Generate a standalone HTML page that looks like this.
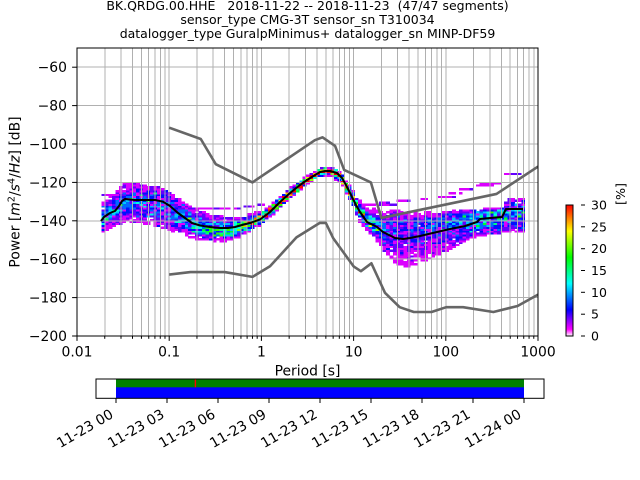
<!DOCTYPE html>
<html><head><meta charset="utf-8">
<style>
html,body{margin:0;padding:0;background:#fff;}
svg{display:block;font-family:"DejaVu Sans","Liberation Sans",sans-serif;}
</style></head><body>
<svg id="s" width="640" height="480" viewBox="0 0 640 480" xmlns="http://www.w3.org/2000/svg">
<defs>
<clipPath id="ax"><rect x="77" y="48" width="461" height="288"/></clipPath>
<linearGradient id="cb" x1="0" y1="1" x2="0" y2="0">
<stop offset="0" stop-color="#ffffff"/>
<stop offset="0.05" stop-color="#ff00ff"/>
<stop offset="0.2" stop-color="#0000ff"/>
<stop offset="0.4" stop-color="#00ffff"/>
<stop offset="0.6" stop-color="#00ff00"/>
<stop offset="0.8" stop-color="#ffff00"/>
<stop offset="1" stop-color="#ff0000"/>
</linearGradient>
</defs>
<rect width="640" height="480" fill="#fff"/>

<!-- titles -->
<g font-size="12.5" text-anchor="middle" fill="#000">
<text x="307.5" y="9.8">BK.QRDG.00.HHE&#160;&#160;&#160;2018-11-22 -- 2018-11-23&#160;&#160;(47/47 segments)</text>
<text x="307.5" y="24">sensor_type CMG-3T sensor_sn T310034</text>
<text x="307.5" y="38.2">datalogger_type GuralpMinimus+ datalogger_sn MINP-DF59</text>
</g>

<g id="hist" clip-path="url(#ax)" shape-rendering="crispEdges"></g>
<g id="grid" stroke="#b0b0b0" stroke-width="1" shape-rendering="crispEdges"></g>

<g clip-path="url(#ax)" fill="none" stroke="#666666" stroke-width="2.6" stroke-linejoin="round">
<polyline points="169.2,127.68 200.77,139.01 215.77,164.16 252.47,182.4 314.86,140.16 322.51,137.28 335.09,145.92 344.16,169.92 370.89,182.4 381.35,217.92 496.51,193.92 538,166.6"/>
<polyline points="169.2,274.56 190.44,272.06 224.71,272.06 252.47,276.86 270.01,266.3 296.45,237.41 319.81,222.91 325.85,222.91 333.15,238.08 353.6,266.4 360.9,271.2 371.4,263.29 384.98,292.8 399.67,307.2 413.83,312 431.52,312 446.2,307.2 463.09,307.2 493.37,312.02 517.55,306.01 538,294.68"/>
</g>
<polyline clip-path="url(#ax)" fill="none" stroke="#000" stroke-width="2" stroke-linejoin="round" points="101,221 104,217 110,213 115,211 119,206 122,201 125,199 135,200 145,200 155,200 163,201.7 170,206 178,213 185,218 192,223 200,225.5 210,227 220,228 228,228 235,227 242,225 250,223 260,219.5 270,212 280,202 290,193 300,185 307,180 315,175 320,172 325,171 330,171 337,173 342,178 346,185 350,193 356,205 360,212 367,222 377,227 383,232 390,235.5 395,238 403,239 410,238 420,236 437,232 450,229 465,226 477,222 480,219 490,218 502,217 506,209 523,209"/>

<rect x="77" y="48" width="461" height="288" fill="none" stroke="#000" stroke-width="1"/>
<g id="ticks" stroke="#000" stroke-width="1"></g>

<!-- y tick labels -->
<g font-size="13.9" text-anchor="end" fill="#000">
<text x="67" y="72.2">−60</text>
<text x="67" y="110.6">−80</text>
<text x="67" y="149">−100</text>
<text x="67" y="187.4">−120</text>
<text x="67" y="225.8">−140</text>
<text x="67" y="264.2">−160</text>
<text x="67" y="302.6">−180</text>
<text x="67" y="341">−200</text>
</g>
<!-- x tick labels -->
<g font-size="13.9" text-anchor="middle" fill="#000">
<text x="77" y="356.5">0.01</text>
<text x="169.2" y="356.5">0.1</text>
<text x="261.4" y="356.5">1</text>
<text x="353.6" y="356.5">10</text>
<text x="445.8" y="356.5">100</text>
<text x="538" y="356.5">1000</text>
<text x="307.5" y="375.7">Period [s]</text>
</g>
<text transform="translate(19.5,192) rotate(-90)" text-anchor="middle" font-size="13.9" fill="#000">Power [<tspan font-style="italic">m</tspan><tspan dy="-5" font-size="9.7">2</tspan><tspan dy="5">/</tspan><tspan font-style="italic">s</tspan><tspan dy="-5" font-size="9.7">4</tspan><tspan dy="5">/</tspan><tspan font-style="italic">Hz</tspan>] [dB]</text>

<!-- colorbar -->
<rect x="566" y="205" width="7" height="131" fill="url(#cb)" stroke="#000" stroke-width="1"/>
<g stroke="#000" stroke-width="1">
<line x1="581" x2="585" y1="205" y2="205"/>
<line x1="581" x2="585" y1="226.8" y2="226.8"/>
<line x1="581" x2="585" y1="248.7" y2="248.7"/>
<line x1="581" x2="585" y1="270.5" y2="270.5"/>
<line x1="581" x2="585" y1="292.3" y2="292.3"/>
<line x1="581" x2="585" y1="314.2" y2="314.2"/>
<line x1="581" x2="585" y1="336" y2="336"/>
</g>
<g font-size="12.5" fill="#000">
<text x="591" y="209.5">30</text>
<text x="591" y="231.3">25</text>
<text x="591" y="253.2">20</text>
<text x="591" y="275">15</text>
<text x="591" y="296.8">10</text>
<text x="591" y="318.7">5</text>
<text x="591" y="340.5">0</text>
</g>
<text transform="translate(625,194) rotate(-90)" text-anchor="middle" font-size="12.7" fill="#000">[%]</text>

<!-- timeline -->
<rect x="116" y="379.5" width="408" height="8" fill="#008000"/>
<rect x="116" y="387.3" width="408" height="10.7" fill="#0000ff"/>
<rect x="194.7" y="379.5" width="1.4" height="7.8" fill="#ff0000"/>
<rect x="96" y="379" width="448" height="19.3" fill="none" stroke="#000" stroke-width="1"/>
<g stroke="#000" stroke-width="1">
<line x1="116" x2="116" y1="398" y2="403"/>
<line x1="167" x2="167" y1="398" y2="403"/>
<line x1="218" x2="218" y1="398" y2="403"/>
<line x1="269" x2="269" y1="398" y2="403"/>
<line x1="320" x2="320" y1="398" y2="403"/>
<line x1="371" x2="371" y1="398" y2="403"/>
<line x1="422" x2="422" y1="398" y2="403"/>
<line x1="473" x2="473" y1="398" y2="403"/>
<line x1="524" x2="524" y1="398" y2="403"/>
</g>
<g font-size="13.9" text-anchor="end" fill="#000">
<text transform="translate(114.3,417) rotate(-30)">11-23 00</text>
<text transform="translate(165.3,417) rotate(-30)">11-23 03</text>
<text transform="translate(216.3,417) rotate(-30)">11-23 06</text>
<text transform="translate(267.3,417) rotate(-30)">11-23 09</text>
<text transform="translate(318.3,417) rotate(-30)">11-23 12</text>
<text transform="translate(369.3,417) rotate(-30)">11-23 15</text>
<text transform="translate(420.3,417) rotate(-30)">11-23 18</text>
<text transform="translate(471.3,417) rotate(-30)">11-23 21</text>
<text transform="translate(522.3,417) rotate(-30)">11-24 00</text>
</g>
</svg>
<script>
(function(){
const NS="http://www.w3.org/2000/svg";
function el(tag,attrs,parent){const e=document.createElementNS(NS,tag);for(const k in attrs)e.setAttribute(k,attrs[k]);parent.appendChild(e);return e;}
const Y=db=>336-(db+200)*1.92;
const grid=document.getElementById('grid'),ticks=document.getElementById('ticks'),hist=document.getElementById('hist');
for(let k=0;k<5;k++)for(let m=1;m<10;m++){const x=77+92.2*(k+Math.log10(m));
  el('line',{x1:x,x2:x,y1:48,y2:336},grid);
  el('line',{x1:x,x2:x,y1:336,y2:(m==1?340.9:338.8)},ticks);}
el('line',{x1:538,x2:538,y1:336,y2:340.9},ticks);
for(let v=-180;v<=-60;v+=20){const y=Y(v);el('line',{x1:77,x2:538,y1:y,y2:y},grid);}
for(let v=-200;v<=-60;v+=20){const y=Y(v);el('line',{x1:72.1,x2:77,y1:y,y2:y},ticks);}

const stops=[[0,255,255,255],[0.05,255,0,255],[0.2,0,0,255],[0.4,0,255,255],[0.6,0,255,0],[0.8,255,255,0],[1,255,0,0]];
function cmap(v){let t=Math.min(1,Math.max(0,v/30));
  for(let i=1;i<stops.length;i++){if(t<=stops[i][0]){const a=stops[i-1],b=stops[i];const f=(t-a[0])/(b[0]-a[0]);
    return 'rgb('+Math.round(a[1]+(b[1]-a[1])*f)+','+Math.round(a[2]+(b[2]-a[2])*f)+','+Math.round(a[3]+(b[3]-a[3])*f)+')';}}
  return 'rgb(255,0,0)';}
let seed=123456789;
function rnd(){seed^=seed<<13;seed^=seed>>>17;seed^=seed<<5;return ((seed>>>0)%100000)/100000;}
const keys=[
[100,220,207,233,1.7],[106,215,200,230,1.7],[115,208,193,224,1.7],[125,200,183,222,1.6],
[140,200,184,222,1.6],[155,201,187,225,1.6],[165,205,190,228,1.6],[180,215,200,233,1.7],
[195,226,210,238,1.8],[210,231,215,240,2.0],[228,231,218,240,2.1],[242,226,216,236,2.3],
[252,222,213,231,2.6],[262,217,210,225,3.0],[275,206,200,213,3.0],[290,193,187,199,3.0],
[307,180,175,186,3.0],[318,173,168,178,3.0],[325,171,166,176,3.0],[333,171,166,177,3.0],
[340,176,169,184,3.0],[350,193,183,203,3.1],[358,208,196,220,2.9],[365,218,204,230,2.6],
[377,226,210,240,2.2],[385,228,212,252,1.7],[395,225,210,262,1.6],[405,224,212,266,1.6],
[420,222,213,262,1.6],[437,220,213,255,1.6],[455,219,211,246,1.6],[470,217,210,238,1.6],
[490,215,209,233,1.6],[503,214,208,232,1.6],[507,214,199,232,1.6],[523,214,199,232,1.6]];
function interp(x){
  if(x<=keys[0][0])return keys[0].slice(1);
  for(let i=1;i<keys.length;i++){if(x<=keys[i][0]){const a=keys[i-1],b=keys[i];const f=(x-a[0])/(b[0]-a[0]);
    return [1,2,3,4].map(j=>a[j]+(b[j]-a[j])*f);}}
  return keys[keys.length-1].slice(1);}
const colW=92.2*Math.log10(2)/8;
const q=100/47;
const cols=[];
for(let x0=101.5;x0<523;x0+=colW)cols.push(x0);
for(const x0 of cols){
  const xc=x0+colW/2;const [m,t,b,k]=interp(xc);
  const su=Math.max(1.5,(m-t)/k),sd=Math.max(1.5,(b-m)/k);
  const cells=[];let sum=0;
  for(let db=-200;db<-50;db++){
    const yc=Y(db+0.5);
    if(yc<t-1||yc>b+1)continue;
    const d=yc-m;const s=d<0?su:sd;
    let w=Math.exp(-0.5*(d/s)*(d/s));
    w*=0.3+1.4*rnd()+(rnd()<0.08?1.2:0);
    cells.push([db,w]);sum+=w;}
  for(const c of cells){let v=c[1]/sum*100;
    const n=Math.round(v/q+ (rnd()-0.5)*0.6);
    if(n<=0)continue; v=n*q;
    el('rect',{x:x0.toFixed(2),y:Y(c[0]+1).toFixed(2),width:(colW+0.4).toFixed(2),height:'2.3',fill:cmap(v)},hist);}
}
const sparse=[[102,122,195],[185,245,209],[245,255,207],[255,263,204],
[365,397,205],[380,392,202],[397,413,201],[420,428,198],[437,457,196],[448,463,193],
[460,477,190],[477,493,185],[480,500,183],[505,523,174]];
for(const s of sparse){
  const db=Math.floor((336-s[2])/1.92)-200;
  for(const x0 of cols){const xc=x0+colW/2;if(xc>=s[0]&&xc<=s[1]){
    if(rnd()<0.12)continue;
    el('rect',{x:x0.toFixed(2),y:Y(db+1).toFixed(2),width:(colW+0.4).toFixed(2),height:'2.3',fill:cmap(q*(rnd()<0.7?1:2))},hist);}}
}
})();
</script>
</body></html>
